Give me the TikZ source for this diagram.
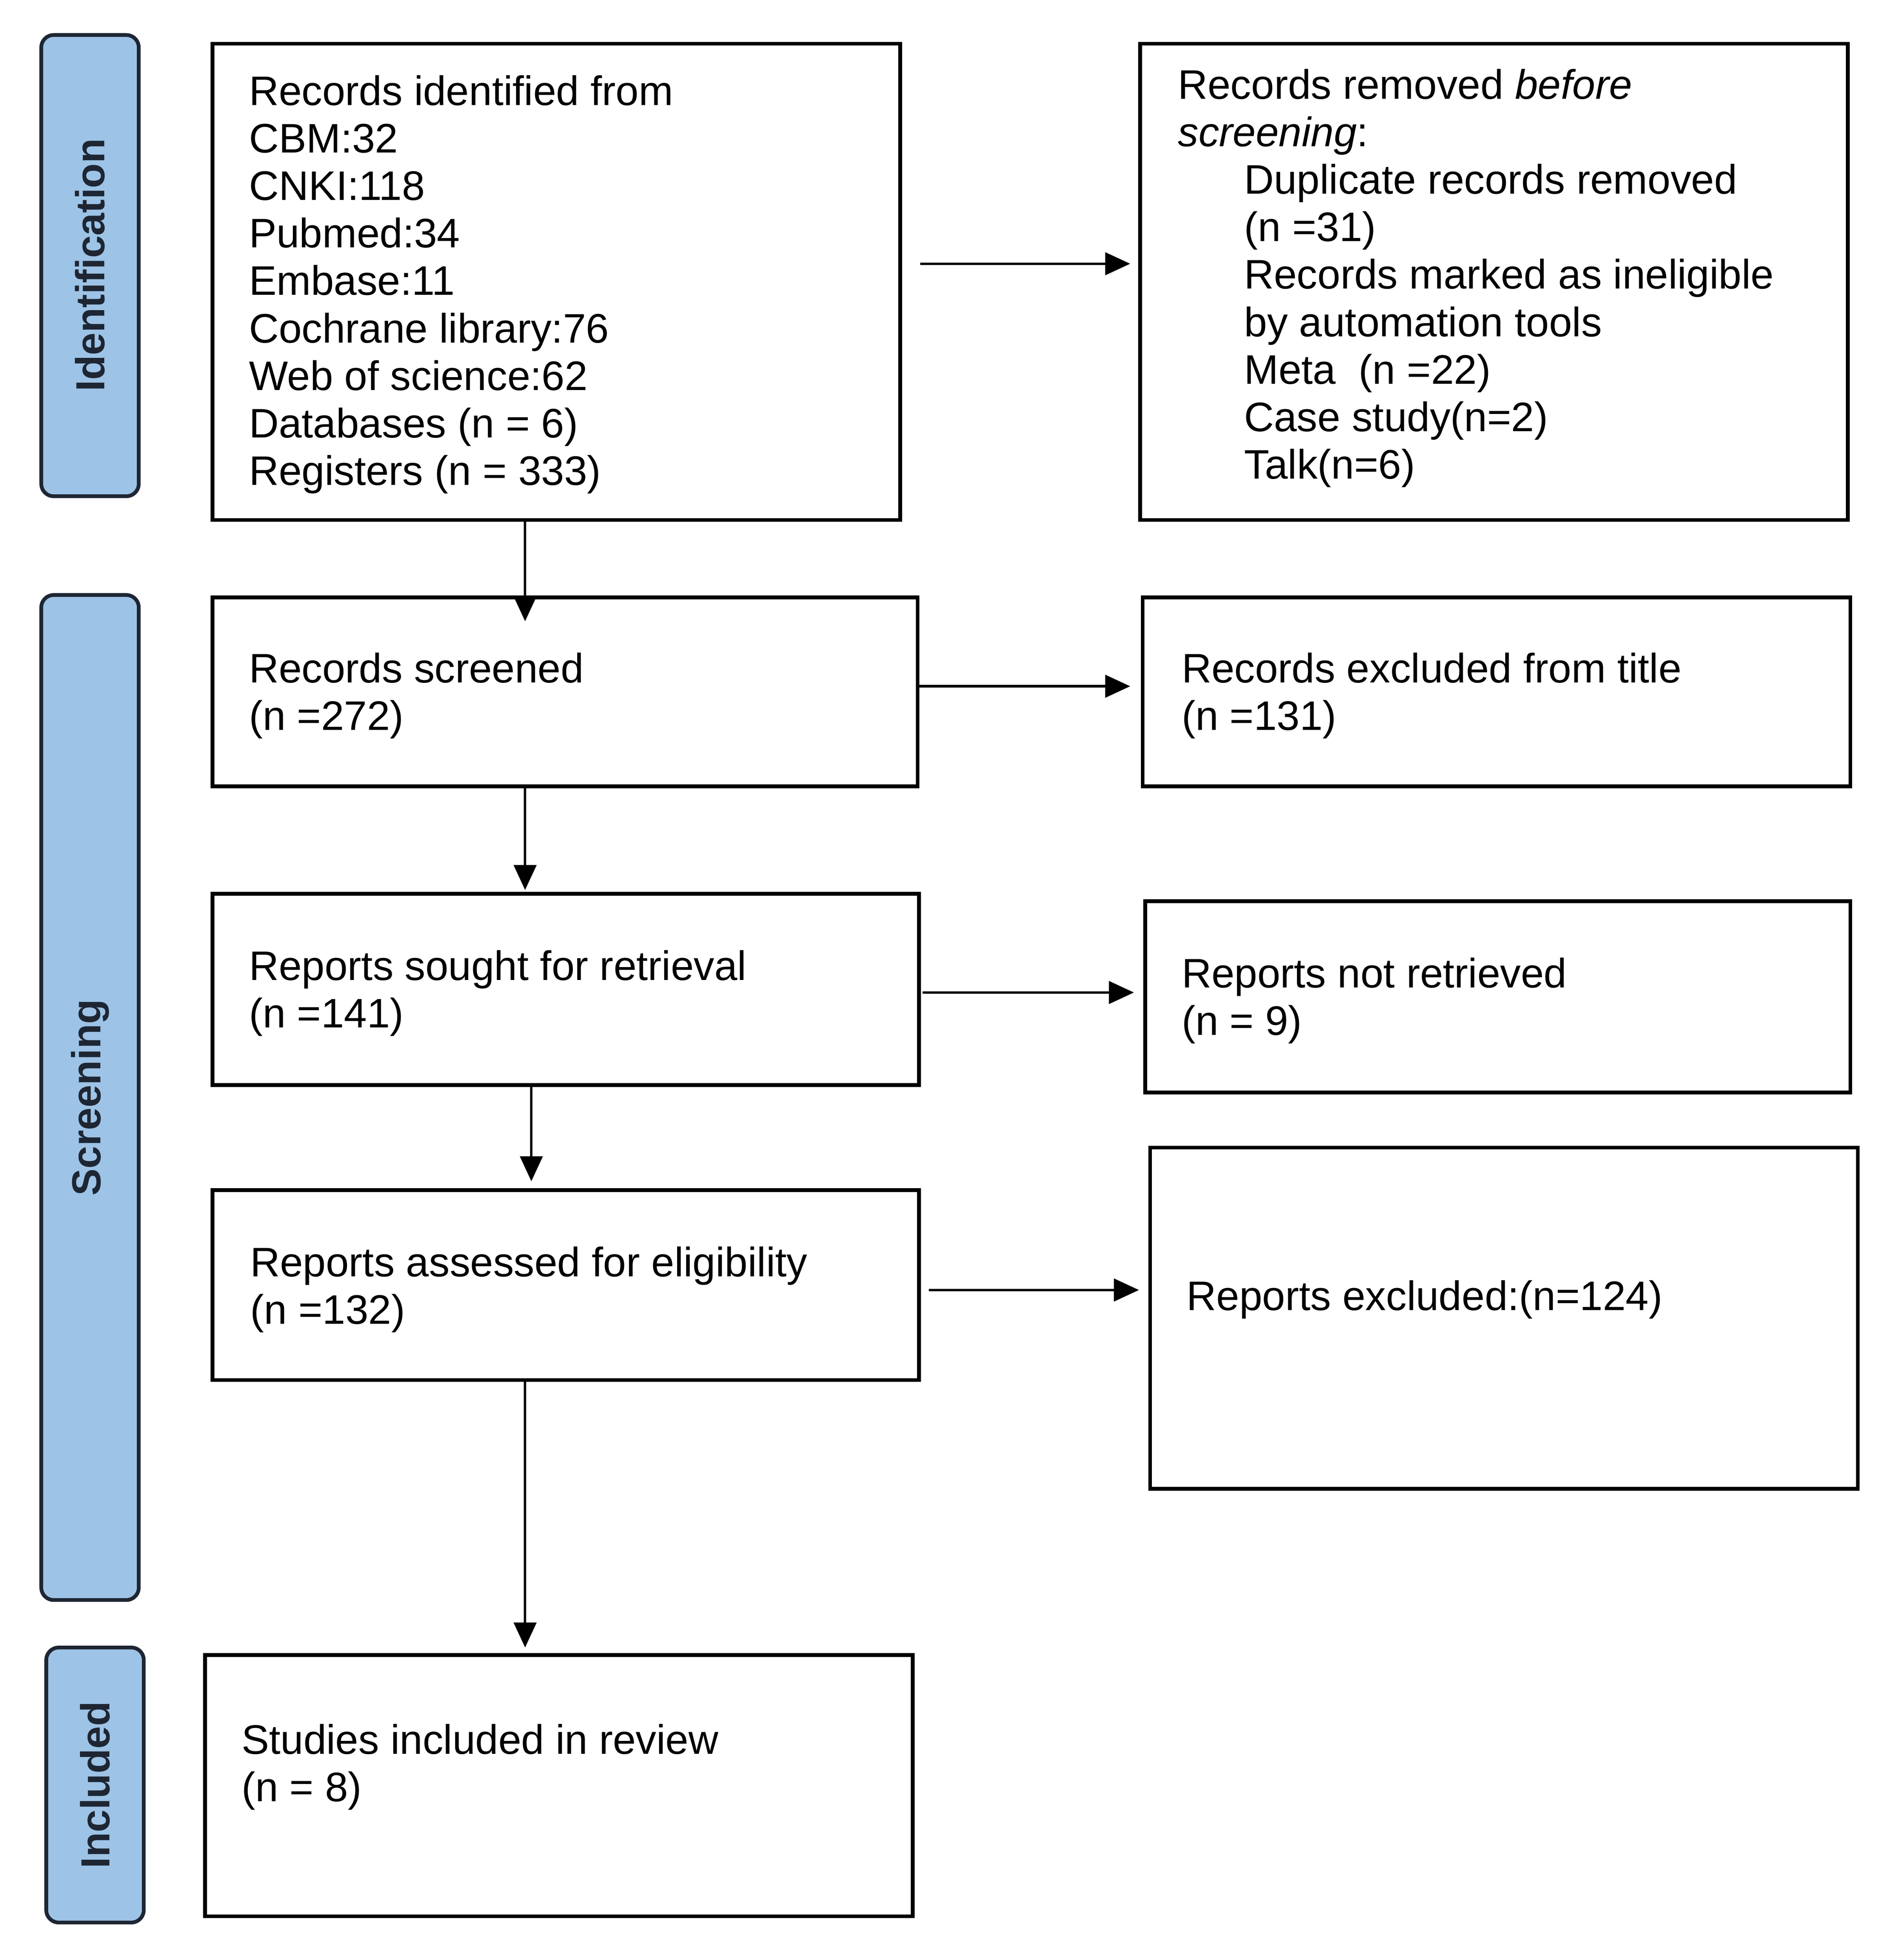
\documentclass[tikz,border=0pt]{standalone}
\usepackage{fontspec}
\setmainfont{Liberation Sans}
\usetikzlibrary{arrows.meta}
\definecolor{barblue}{HTML}{9DC3E6}
\definecolor{bardark}{HTML}{1E2633}
\begin{document}
\begin{tikzpicture}[x=1pt,y=-1pt,
  box/.style={draw=black,line width=3pt},
  bar/.style={draw=bardark,fill=barblue,line width=3pt,rounded corners=10pt},
  txt/.style={anchor=north west,inner sep=0pt,align=left,font=\fontsize{33}{38}\selectfont},
  lab/.style={rotate=90,font=\fontsize{32.5}{36}\selectfont\bfseries,text=bardark},
  arr/.style={line width=2pt,-{Triangle[length=20pt,width=18pt]}}]
\useasboundingbox (0,0) rectangle (1518,1568);
\fill[white] (0,0) rectangle (1518,1568);
% side bars
\draw[bar] (33,28) rectangle (111,397);
\node[lab] (l1) at (72,212) {Identification};
\draw[bar] (33,476) rectangle (111,1280);
\node[lab] (l2) at (72,878) {Screening};
\draw[bar] (37,1318) rectangle (115,1538);
\node[lab] (l3) at (76,1428) {Included};
% boxes
\draw[box] (170,35) rectangle (720,416);
\draw[box] (912,35) rectangle (1478,416);
\draw[box] (170,478) rectangle (734,629);
\draw[box] (914,478) rectangle (1480,629);
\draw[box] (170,715) rectangle (735,868);
\draw[box] (916,721) rectangle (1480,874);
\draw[box] (170,952) rectangle (735,1104);
\draw[box] (920,918) rectangle (1486,1191);
\draw[box] (164,1324) rectangle (730,1533);
% texts
\node[txt] (t1) at (199,60) {Records identified from\\CBM:32\\CNKI:118\\Pubmed:34\\Embase:11\\Cochrane library:76\\Web of science:62\\Databases (n = 6)\\Registers (n = 333)};
\node[txt] (t2) at (942,55) {Records removed \textit{before}\\\textit{screening}:\\
\hspace*{53pt}Duplicate records removed\\\hspace*{53pt}(n =31)\\\hspace*{53pt}Records marked as ineligible\\\hspace*{53pt}by automation tools\\\hspace*{53pt}Meta\ \ (n =22)\\\hspace*{53pt}Case study(n=2)\\\hspace*{53pt}Talk(n=6)};
\node[txt] (t3) at (199,522) {Records screened\\(n =272)};
\node[txt] (t4) at (945,522) {Records excluded from title\\(n =131)};
\node[txt] (t5) at (199,760) {Reports sought for retrieval\\(n =141)};
\node[txt] (t6) at (945,766) {Reports not retrieved\\(n = 9)};
\node[txt] (t7) at (200,997) {Reports assessed for eligibility\\(n =132)};
\node[txt] (t8) at (949,1024) {Reports excluded:(n=124)};
\node[txt] (t9) at (193,1379) {Studies included in review\\(n = 8)};
% connectors
\coordinate (a1) at (736,211); \coordinate (b1) at (904,211);
\coordinate (a2) at (420,416); \coordinate (b2) at (420,497);
\coordinate (a3) at (735,549); \coordinate (b3) at (904,549);
\coordinate (a4) at (420,629); \coordinate (b4) at (420,712);
\coordinate (a5) at (738,794); \coordinate (b5) at (907,794);
\coordinate (a6) at (425,868); \coordinate (b6) at (425,945);
\coordinate (a7) at (743,1032); \coordinate (b7) at (911,1032);
\coordinate (a8) at (420,1104); \coordinate (b8) at (420,1318);
\foreach \i in {1,...,8} \draw[arr] (a\i) -- (b\i);
\end{tikzpicture}
\end{document}
